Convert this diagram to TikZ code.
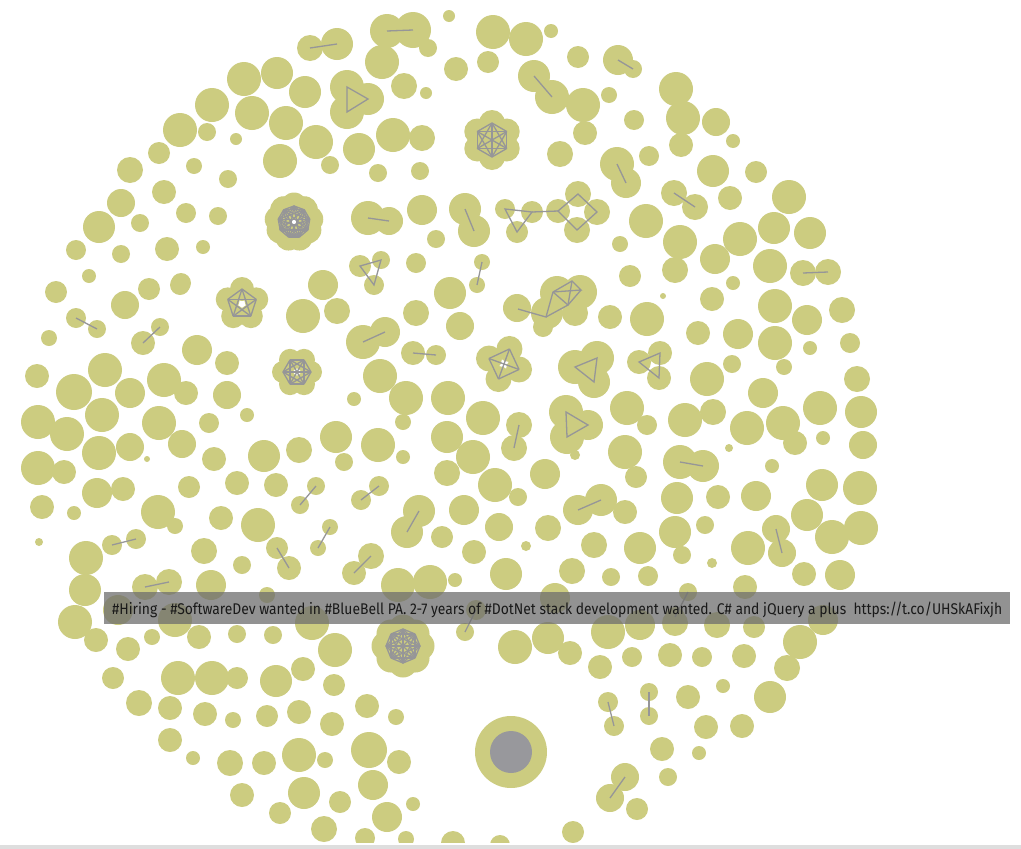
\documentclass[tikz,border=0pt]{standalone}
\usepackage{fontspec}
\setmainfont{Fira Sans}
\definecolor{dotc}{RGB}{204,204,128}
\definecolor{edgec}{RGB}{150,150,152}
\definecolor{hubc}{RGB}{152,152,156}
\definecolor{tipc}{RGB}{110,110,110}
\definecolor{tiptext}{RGB}{25,25,25}
\definecolor{framec}{RGB}{222,222,222}
\tikzset{
  dot/.style={fill=dotc},
  edge/.style={draw=edgec,line width=1.3pt},
  tipbox/.style={fill=tipc,fill opacity=0.75},
}
\newcommand\kgraph[7]{%
  \foreach \i in {1,...,#3}{\fill[dot] ({#1+#4*cos(#6+360*\i/#3)},{#2+#4*sin(#6+360*\i/#3)}) circle[radius=#5pt];}
  \ifdim #7pt>0pt \fill[dot] (#1,#2) circle[radius=#7pt];\fi
  \foreach \i in {1,...,#3}{\foreach \j in {1,...,#3}{\ifnum\j>\i
    \draw[edge] ({#1+#4*cos(#6+360*\i/#3)},{#2+#4*sin(#6+360*\i/#3)}) -- ({#1+#4*cos(#6+360*\j/#3)},{#2+#4*sin(#6+360*\j/#3)});\fi}}}
\def\plaindots{449/16/6,382/62/17,244/79/17,277/73/16,305/92/16,404/86/13,426/93/6,
212/105/17,252/113/17,286/123/17,180/130/17,207/132/9,236/139/6,316/142/17,359/149/16,
393/135/17,422/138/13,159/153/11,130/170/13,194/166/8,228/179/9,280/161/17,330/165/9,
378/173/9,420/171/9,121/203/14,164/192/12,186/213/10,218/216/9,422/210/15,436/239/9,
99/227/16,140/223/9,76/250/10,121/254/9,167/249/12,203/247/7,89/276/7,181/283/10,
416/263/10,428/48/9,
493/32/17,526/39/17,551/31/7,456/69/12,488/62/11,578/57/11,583/105/17,609/95/8,634/120/10,
585/133/12,676/89/17,683/118/17,681/145/12,716/122/14,733/141/7,560/154/13,649/156/10,
713/171/16,756/172/11,789/197/17,730/198/12,646/221/17,620/244/8,680/242/17,675/270/13,
740/239/17,774/228/16,810/233/16,715/259/15,770/266/17,733/283/7,630/276/11,
56/292/11,149/289/11,180/285/10,125/305/14,303/316/17,323/285/15,337/311/13,416/313/13,
49/338/8,197/350/15,227/363/12,227/395/14,247/415/7,37/376/12,105/370/17,74/392/18,
130/393/15,164/380/17,186/393/12,380/376/17,406/398/17,354/399/7,403/422/8,38/422/17,
67/434/17,102/415/17,159/423/17,209/423/10,99/453/17,130/447/14,147/459/3,182/444/14,
214/459/12,336/437/16,378/445/17,344/462/9,403/457/7,264/456/16,299/450/13,38/468/17,
64/472/12,97/493/15,123/489/12,42/507/12,74/513/7,39/542/4,189/487/11,237/483/12,
276/485/12,442/537/11,158/512/17,175/526/8,221/518/12,258/525/17,86/558/17,204/551/13,
242/565/9,398/585/17,430/582/17,447/473/13,448/398/17,450/293/16,447/437/16,
460/326/14,610/317/12,647/319/17,663/296/3,712/299/12,775/306/17,807/320/15,842/310/13,
698/333/12,738/334/15,775/343/17,810/348/7,850/343/10,784/367/8,707/379/17,732/364/9,
763/393/15,820/408/17,857/379/13,861/412/16,483/418/17,627/408/17,647/425/10,685/420/17,
713/412/13,747/428/17,783/423/17,795/443/12,823/438/7,863/445/14,473/457/17,625/452/17,
636/477/11,729/448/4,772/466/7,545/474/15,495/485/17,518/497/9,625/512/12,677/498/16,
718/497/12,756/496/15,822/485/16,860/488/17,807/515/16,464/510/15,499/527/14,526/546/5,
548/528/13,594/545/13,640/548/16,675/532/16,682/555/9,705/525/9,748/548/17,832/537/17,
861/528/17,712/563/5,474/552/12,506/574/16,572/571/13,804/574/12,840/575/15,611/577/9,
648/576/10,575/455/5,
85/590/16,75/622/17,96/640/12,211/585/15,118/610/15,175/620/17,267/595/8,312/623/17,
152/637/8,128/649/12,199/637/12,237/634/9,273/635/9,335/650/17,113/678/11,178/678/17,
212/678/17,237/678/11,276/681/16,303/669/12,334/685/11,139/703/13,170/708/12,205/714/12,
233/720/8,267/716/11,299/712/12,332/724/12,367/706/12,396/717/8,170/740/12,193/758/7,
230/763/13,264/763/12,299/755/17,325/760/8,369/750/18,399/762/12,242/795/12,304/793/16,
340/802/11,373/785/15,413/804/7,280/813/11,324/829/13,387/817/15,365/838/10,406/839/8,
453/843/12,
455/580/7,745/587/12,555/598/15,608/632/17,640/625/15,675/623/13,717/625/13,754/627/11,
823/620/15,800/642/17,515/647/17,548/638/16,570/653/12,600/667/12,632/657/10,670/655/12,
702/657/10,744/656/12,787/668/13,723/686/7,688/697/12,770/697/16,706/727/12,742/726/12,
662/749/12,699/753/7,668/777/9,637/809/11,573/832/11,500/845/10}
\def\pairdots{310/48/13/337/44/16,387/31/17/413/30/18,618/60/15/633/69/9,534/76/16/552/97/17,
617/164/17/626/183/15,465/209/16/474/231/16,674/193/13/695/207/13,803/273/13/828/272/13,
482/262/8/477/285/8,368/218/17/389/221/14,
76/318/10/97/329/9,160/327/9/143/343/12,363/342/17/385/332/15,413/353/12/436/355/10,
316/486/9/300/505/9,379/486/10/361/500/10,419/511/16/407/532/16,277/548/11/289/568/12,
330/527/8/318/548/8,371/556/13/354/573/12,112/545/10/136/539/10,
519/425/13/514/448/13,680/462/17/703/466/16,578/510/15/601/500/16,776/529/14/782/553/14,
145/587/13/169/582/13,476/610/10/465/632/9,688/592/9/675/617/10,608/702/10/614/726/10,
649/692/9/649/716/9,625/777/14/610/798/14}
\def\tridots{347/87/17/368/99/16/347/112/17,360/266/11/381/260/9/374/285/10,
575/367/17/597/358/17/594/382/16,639/362/12/660/353/12/659/378/12,
566/412/17/588/425/15/567/437/17,505/209/10/532/212/11/517/232/11}
\begin{document}
\begin{tikzpicture}[x=1pt,y=-1pt]
\useasboundingbox (0,0) rectangle (1021,849);
\fill[white] (0,0) rectangle (1021,849);
\begin{scope}
\clip (0,0) rectangle (1021,842);
% single circles
\foreach \x/\y/\r in \plaindots {\fill[dot] (\x,\y) circle[radius=\r pt];}
% two-node components
\foreach \ax/\ay/\ar/\bx/\by/\br in \pairdots {
  \fill[dot] (\ax,\ay) circle[radius=\ar pt];
  \fill[dot] (\bx,\by) circle[radius=\br pt];}
% three-node components
\foreach \ax/\ay/\ar/\bx/\by/\br/\cx/\cy/\cr in \tridots {
  \fill[dot] (\ax,\ay) circle[radius=\ar pt];
  \fill[dot] (\bx,\by) circle[radius=\br pt];
  \fill[dot] (\cx,\cy) circle[radius=\cr pt];}
% diamond of the chain
\foreach \x/\y/\r in {558/211/12,578/194/13,597/212/13,577/230/13} {\fill[dot] (\x,\y) circle[radius=\r pt];}
% six-node component
\foreach \x/\y/\r in {517/308/14,547/313/16,557/293/17,580/292/17,575/313/13,543/327/10} {\fill[dot] (\x,\y) circle[radius=\r pt];}
% hub
\fill[dot] (511,752) circle[radius=36pt];
\fill[hubc] (511,752) circle[radius=21pt];
% edges
\foreach \ax/\ay/\ar/\bx/\by/\br in \pairdots {\draw[edge] (\ax,\ay) -- (\bx,\by);}
\foreach \ax/\ay/\ar/\bx/\by/\br/\cx/\cy/\cr in \tridots {\draw[edge] (\ax,\ay) -- (\bx,\by) -- (\cx,\cy) -- cycle;}
\draw[edge] (532,212) -- (558,211);
\draw[edge] (558,211) -- (578,194) -- (597,212) -- (577,230) -- cycle;
\coordinate (sa) at (518,309); \coordinate (sb) at (546,317); \coordinate (sc) at (553,292);
\coordinate (sd) at (572,281); \coordinate (se) at (581,290); \coordinate (sf) at (568,305);
\draw[edge] (sa) -- (sb) -- (sc) -- (sd) -- (se) -- (sc);
\draw[edge] (sc) -- (sf) -- (se); \draw[edge] (sb) -- (sf) -- (sd);
% complete-graph clusters
\kgraph{294}{222}{9}{16}{13.5}{-90}{0}
\kgraph{242}{304}{5}{15}{12}{-90}{0}
\kgraph{403}{646}{8}{17}{14.5}{0}{8}
\kgraph{492}{140}{6}{17}{13}{-90}{10}
\kgraph{297}{372}{6}{14}{11}{0}{0}
\kgraph{504}{364}{4}{16}{13}{20}{0}
\end{scope}
% tooltip
\fill[tipbox] (104,592) rectangle (1010,624);
\node[text=tiptext,inner sep=0pt,anchor=base west] (tip) at (112,614)
  {\resizebox{890pt}{12.5pt}{\fontsize{15pt}{15pt}\selectfont \#Hiring - \#SoftwareDev wanted in \#BlueBell PA. 2-7 years of \#DotNet stack development wanted. C\# and jQuery a plus\ \ https://t.co/UHSkAFixjh}};
% bottom frame
\fill[framec] (0,845) rectangle (1021,849);
\end{tikzpicture}
\end{document}
